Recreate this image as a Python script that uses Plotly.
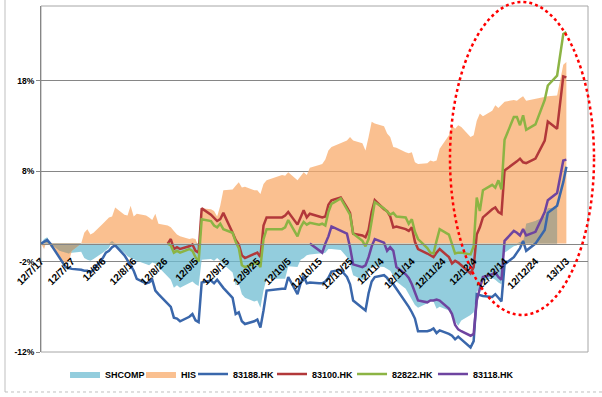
import plotly.graph_objects as go

dates = [
    "2012-07-17", "2012-07-18", "2012-07-19", "2012-07-20", "2012-07-23", "2012-07-24", "2012-07-25", "2012-07-26", "2012-07-27", "2012-07-30",
    "2012-07-31", "2012-08-01", "2012-08-02", "2012-08-03", "2012-08-06", "2012-08-07", "2012-08-08", "2012-08-09", "2012-08-10", "2012-08-13",
    "2012-08-14", "2012-08-15", "2012-08-16", "2012-08-17", "2012-08-20", "2012-08-21", "2012-08-22", "2012-08-23", "2012-08-24", "2012-08-27",
    "2012-08-28", "2012-08-29", "2012-08-30", "2012-08-31", "2012-09-03", "2012-09-04", "2012-09-05", "2012-09-06", "2012-09-07", "2012-09-10",
    "2012-09-11", "2012-09-12", "2012-09-13", "2012-09-14", "2012-09-17", "2012-09-18", "2012-09-19", "2012-09-20", "2012-09-21", "2012-09-24",
    "2012-09-25", "2012-09-26", "2012-09-27", "2012-09-28", "2012-10-03", "2012-10-04", "2012-10-05", "2012-10-08", "2012-10-09", "2012-10-10",
    "2012-10-11", "2012-10-12", "2012-10-15", "2012-10-16", "2012-10-17", "2012-10-18", "2012-10-19", "2012-10-22", "2012-10-24", "2012-10-25",
    "2012-10-26", "2012-10-29", "2012-10-30", "2012-10-31", "2012-11-01", "2012-11-02", "2012-11-05", "2012-11-06", "2012-11-07", "2012-11-08",
    "2012-11-09", "2012-11-12", "2012-11-13", "2012-11-14", "2012-11-15", "2012-11-16", "2012-11-19", "2012-11-20", "2012-11-21", "2012-11-22",
    "2012-11-23", "2012-11-26", "2012-11-27", "2012-11-28", "2012-11-29", "2012-11-30", "2012-12-03", "2012-12-04", "2012-12-05", "2012-12-06",
    "2012-12-07", "2012-12-10", "2012-12-11", "2012-12-12", "2012-12-13", "2012-12-14", "2012-12-17", "2012-12-18", "2012-12-19", "2012-12-20",
    "2012-12-21", "2012-12-24", "2012-12-27", "2012-12-28", "2012-12-31", "2013-01-02", "2013-01-03",
]

N = None
shcomp = [
    0.0, 0.5, 0.7, 0.0, -0.8, -0.9, -1.0, -1.1, -1.0, -0.9,
    -1.6, -1.8, -1.9, -1.7, -1.0, -0.7, -0.5, 0.3, -0.3, -1.0,
    -1.4, -1.6, -1.7, -1.9, -2.3, -2.4, -2.1, -2.2, -2.6, -3.6,
    -4.0, -4.9, -4.6, -4.9, -4.4, -4.2, -4.5, -4.7, -1.8, -1.7,
    -1.9, -1.6, -1.9, -2.3, -3.2, -4.6, -4.4, -5.6, -6.0, -6.4,
    -6.3, -7.1, -5.2, -3.9, -3.9, -3.9, -2.5, -2.6, -1.8, -1.6,
    -1.3, -1.2, -1.1, -1.1, -1.0, -0.6, -0.6, -0.7, -1.5, -2.3,
    -3.5, -4.0, -4.0, -3.0, -2.6, -2.5, -2.6, -2.8, -3.0, -3.6,
    -4.2, -5.0, -5.6, -6.3, -6.8, -7.1, -6.6, -6.3, -6.4, -7.2,
    -7.0, -7.4, -7.9, -8.6, -9.1, -8.5, -7.9, -7.6, -5.3, -5.0,
    -4.2, -3.8, -4.0, -4.3, -4.5, -1.0, -0.3, -0.2, 0.2, 0.1,
    2.2, 2.5, 3.0, 3.9, 4.0, N, N,
]
his = [
    0.0, -0.6, 0.5, -0.3, -1.4, -1.9, -2.1, -2.0, -0.8, 0.0,
    1.2, 1.6, 1.0, 1.2, 2.2, 2.6, 2.9, 3.0, 4.0, 3.2,
    3.1, 4.2, 3.0, 3.3, 3.1, 2.9, 2.6, 3.3, 2.2, 2.0,
    1.8, 1.4, 1.0, 0.8, 0.5, 0.6, 0.5, -0.4, 3.9, 3.8,
    3.6, 3.0, 4.2, 5.9, 6.0, 6.4, 6.8, 6.2, 6.3, 5.9,
    5.9, 5.5, 6.6, 7.0, 7.6, 7.5, 7.9, 7.0, 7.4, 7.9,
    7.6, 8.4, 8.7, 8.8, 9.3, 10.3, 10.7, 11.1, 11.4, 11.8,
    11.4, 11.1, 10.3, 11.8, 13.5, 13.3, 13.0, 12.2, 11.8, 10.7,
    10.6, 10.1, 10.0, 10.1, 9.0, 8.8, 8.9, 9.2, 9.1, 9.2,
    10.5, 12.0, 13.1, 12.7, 13.1, 12.9, 11.8, 12.0, 13.6, 14.4,
    14.1, 14.7, 15.3, 15.0, 15.4, 15.7, 15.9, 15.8, 16.1, 16.3,
    15.8, 16.0, 16.2, 16.3, 16.4, 19.8, 20.1,
]
hk83188 = [
    0.0, 0.2, 0.4, 0.0, -1.6, -2.2, -2.6, -2.7, -2.8, -2.9,
    -3.0, -3.0, -3.2, -2.9, -1.6, -1.0, -0.8, -0.4, -0.2, -1.3,
    -1.8, -2.4, -3.0, -3.9, -4.4, -4.3, -4.0, -5.2, -5.6, -6.6,
    -7.0, -8.2, -8.3, -8.6, -8.1, -7.8, -8.5, -8.7, -4.3, -4.1,
    -4.4, -4.0, -4.5, -4.9, -6.0, -7.8, -7.6, -8.6, -8.9, -8.6,
    -8.4, -9.3, -7.4, -5.2, -5.0, -5.0, -3.7, -5.6, -4.4, -3.6,
    -4.4, -4.3, -4.4, -4.4, -4.2, -3.8, -3.1, -2.9, -3.7, -4.5,
    -6.3, -7.2, -7.4, -5.5, -4.2, -3.7, -3.5, -3.8, -4.3, -4.5,
    -5.0, -6.4, -7.0, -7.6, -8.3, -9.7, -9.7, -9.6, -9.4, -9.9,
    -9.6, -10.0, -10.2, -10.6, -10.3, -10.6, -11.5, -10.8, -5.6, -5.7,
    -5.8, -5.9, -5.6, -6.0, -6.4, -2.3, -1.5, -1.0, -0.5, 0.3,
    -0.8, 0.0, 1.5, 3.4, 4.2, 6.8, 8.5,
]
hk83100 = [
    N, N, N, N, N, N, N, N, N, N,
    N, N, N, N, N, N, N, N, N, N,
    N, N, N, N, N, N, N, N, N, 0.0,
    0.5, -0.6, -0.4, -0.6, -0.3, -0.1, -0.8, -1.0, 3.9, 3.2,
    2.8, 2.5, 2.7, 3.4, 1.2, 0.4, -0.1, -1.3, -1.6, -1.2,
    -1.0, -1.5, 2.0, 2.9, 2.9, 3.1, 3.5, 2.1, 3.0, 3.7,
    2.9, 3.3, 3.0, 2.9, 3.0, 4.3, 4.8, 5.1, 4.0, 3.4,
    1.1, 0.9, 0.7, 1.5, 3.5, 4.8, 3.8, 3.6, 3.0, 1.8,
    1.9, 1.6, 1.4, 1.8, 0.2, -0.6, -1.1, -1.3, -1.5, -1.0,
    -0.6, -1.5, -2.2, -1.9, -2.1, -2.4, -3.3, -2.6, 1.0, 1.8,
    2.9, 3.8, 4.0, 3.5, 3.3, 8.1, 8.8, 9.1, 9.4, 9.0,
    8.9, 9.4, 11.4, 13.5, 12.7, 18.5, 18.4,
]
hk82822 = [
    N, N, N, N, N, N, N, N, N, N,
    N, N, N, N, N, N, N, N, N, N,
    N, N, N, N, N, N, N, N, N, 0.0,
    -0.2, -1.0, -0.8, -1.0, -0.6, -0.8, -1.5, -2.0, 2.7, 2.5,
    2.0, 1.8, 2.2, 1.6, 1.2, 0.2, -0.5, -2.4, -2.6, -2.2,
    -2.1, -2.6, 0.5, 1.6, 1.6, 1.8, 2.6, 0.8, 1.8, 2.4,
    2.1, 2.3, 2.1, 2.2, 2.0, 3.5, 4.4, 5.0, 3.9, 3.2,
    1.1, 0.3, -0.3, 0.5, 2.5, 4.6, 3.9, 3.6, 3.2, 3.4,
    3.0, 2.9, 2.2, 2.7, 1.3, 0.5, -0.5, -1.0, -1.1, 0.3,
    1.6, 1.0, 0.0, -1.1, -1.0, -1.0, -1.2, -0.3, 5.1, 3.6,
    5.9, 6.5, 6.2, 7.0, 6.0, 11.5, 14.0, 14.0, 13.1, 14.2,
    12.6, 13.2, 15.9, 17.5, 18.6, 23.2, 23.4,
]
hk83118 = [
    N, N, N, N, N, N, N, N, N, N,
    N, N, N, N, N, N, N, N, N, N,
    N, N, N, N, N, N, N, N, N, N,
    N, N, N, N, N, N, N, N, N, N,
    N, N, N, N, N, N, N, N, N, N,
    N, N, N, N, N, N, N, N, N, N,
    N, 0.0, -0.8, -1.0, 0.0, 0.8, 1.9, 1.4, 1.1, -0.4,
    -2.3, -2.6, -2.4, -1.5, -0.3, 0.5, 0.1, -0.8, -0.4, -0.8,
    -2.6, -3.4, -3.8, -4.5, -5.3, -6.3, -6.5, -6.3, -6.3, -6.2,
    -6.3, -7.2, -7.8, -9.0, -9.5, -9.7, -10.2, -10.0, -6.3, -4.9,
    -3.7, -3.4, -3.2, -3.7, -4.0, 0.3, 1.4, 1.2, 0.9, 1.6,
    0.9, 1.3, 3.5, 4.8, 5.6, 9.2, 9.3,
]

tick_dates = ["2012-07-17", "2012-07-27", "2012-08-06", "2012-08-16", "2012-08-26", "2012-09-05",
              "2012-09-15", "2012-09-25", "2012-10-05", "2012-10-15", "2012-10-25", "2012-11-04",
              "2012-11-14", "2012-11-24", "2012-12-04", "2012-12-14", "2012-12-24", "2013-01-03"]
tick_labels = ["12/7/17", "12/7/27", "12/8/6", "12/8/16", "12/8/26", "12/9/5", "12/9/15", "12/9/25",
               "12/10/5", "12/10/15", "12/10/25", "12/11/4", "12/11/14", "12/11/24", "12/12/4",
               "12/12/14", "12/12/24", "13/1/3"]
y_ticks = [-12, -2, 8, 18]
y_labels = ["-12%", "-2%", "8%", "18%"]
y_min, y_max = -12, 26.3


def overlap(a, b):
    out = []
    for u, v in zip(a, b):
        if u is None or v is None:
            out.append(None)
        elif u * v > 0:
            out.append(min(abs(u), abs(v)) * (1 if u > 0 else -1))
        else:
            out.append(0.0)
    return out


FONT = "Liberation Sans, Arial, sans-serif"
fig = go.Figure()
fig.add_trace(go.Scatter(x=dates, y=shcomp, name="SHCOMP", mode="lines", fill="tozeroy",
                         line=dict(width=0, color="rgba(111,188,210,0.75)"),
                         fillcolor="rgba(111,188,210,0.75)", legend="legend"))
fig.add_trace(go.Scatter(x=dates, y=his, name="HIS", mode="lines", fill="tozeroy",
                         line=dict(width=0, color="rgba(248,171,107,0.75)"),
                         fillcolor="rgba(248,171,107,0.75)", legend="legend2"))
fig.add_trace(go.Scatter(x=dates, y=overlap(shcomp, his), mode="lines", fill="tozeroy",
                         line=dict(width=0, color="#B3A68C"), fillcolor="#B3A68C",
                         showlegend=False))
series = [("83188.HK", hk83188, "#3A67AB", "legend3"),
          ("83100.HK", hk83100, "#B2383A", "legend4"),
          ("82822.HK", hk82822, "#8CB444", "legend5"),
          ("83118.HK", hk83118, "#6E44A0", "legend6")]
for name, vals, col, lg in series:
    fig.add_trace(go.Scatter(x=dates, y=vals, name=name, mode="lines",
                             line=dict(width=2.5, color=col), legend=lg))

legend_x = [0.0439, 0.1828, 0.2779, 0.4223, 0.5686, 0.7166]
legend_common = dict(orientation="h", xanchor="left", y=-0.0636, yanchor="middle",
                     font=dict(size=9, weight="bold"), itemwidth=30,
                     bgcolor="rgba(0,0,0,0)", borderwidth=0)
legends = {}
for i, lx in enumerate(legend_x):
    key = "legend" if i == 0 else f"legend{i + 1}"
    legends[key] = dict(x=lx, **legend_common)

fig.update_layout(
    width=602, height=397,
    margin=dict(l=41, r=14, t=6, b=45, autoexpand=False),
    paper_bgcolor="white", plot_bgcolor="white",
    font=dict(family=FONT, size=9, color="black"),
    hovermode=False,
    xaxis=dict(type="date", range=["2012-07-17", "2013-01-10"], anchor="free",
               position=(0 - y_min) / (y_max - y_min), automargin=False,
               showline=True, linecolor="#868686", linewidth=1,
               tickvals=tick_dates, ticktext=tick_labels, tickangle=-45,
               tickfont=dict(size=10, weight="bold"), ticks="", showgrid=False,
               zeroline=False, ticklabelstandoff=7),
    yaxis=dict(range=[y_min, y_max], tickvals=y_ticks, ticktext=y_labels, automargin=False,
               showgrid=True, gridcolor="#868686", gridwidth=1, zeroline=False,
               showline=True, linecolor="#868686", ticks="outside", ticklen=4,
               tickcolor="#868686", tickfont=dict(size=8.5, weight="bold")),
    shapes=[
        dict(type="rect", xref="paper", yref="paper", x0=0, x1=1, y0=0, y1=1,
             line=dict(color="#A6A6A6", width=1), layer="below"),
        dict(type="line", xref="paper", yref="paper", x0=-0.0658, x1=-0.0658, y0=-0.1156, y1=1.1,
             line=dict(color="#BFBFBF", width=1)),
        dict(type="line", xref="paper", yref="paper", x0=-0.0658, x1=1.1, y0=-0.1156, y1=-0.1156,
             line=dict(color="#BFBFBF", width=1, dash="dot")),
        dict(type="circle", xref="paper", yref="paper", x0=0.7477, x1=1.011, y0=0.107, y1=1.0116,
             line=dict(color="#FF0000", width=2.5, dash="dot"), layer="above"),
    ],
    **legends,
)

fig.write_html("out.html", config={"displayModeBar": False},
               post_script="document.body.style.margin='0px';")
